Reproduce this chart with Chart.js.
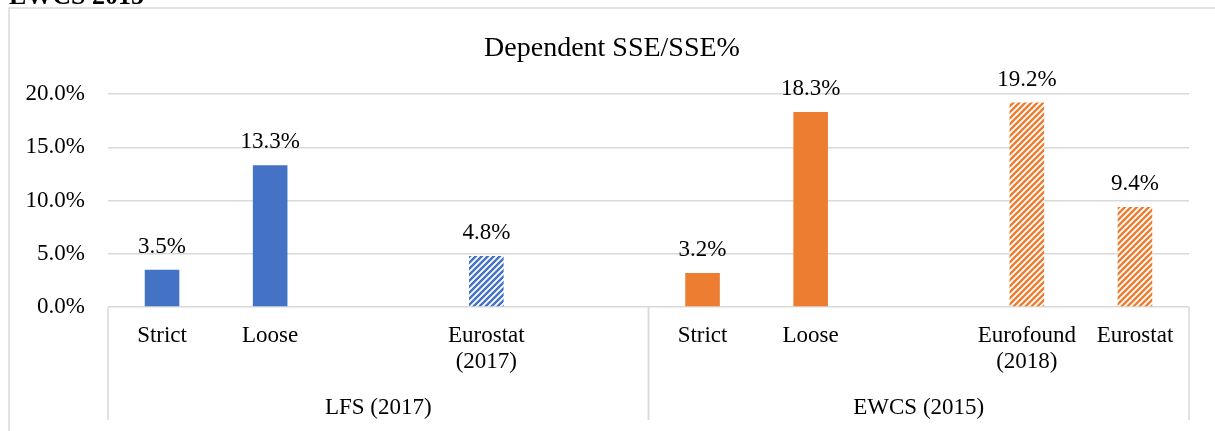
<!DOCTYPE html>
<html>
<head>
<meta charset="utf-8">
<script src="https://cdn.jsdelivr.net/npm/chart.js@4"></script>
<style>
    body { margin: 0; background: #fff; }
    #wrap { width: 1215px; height: 431px; position: relative; }
</style>
</head>
<body>
<div id="wrap"><canvas id="sseChart" width="1215" height="431"></canvas></div>
<script>
const categories = ['Strict', 'Loose', '', ['Eurostat', '(2017)'], '', 'Strict', 'Loose', '', ['Eurofound', '(2018)'], 'Eurostat'];
const groups = ['LFS (2017)', 'EWCS (2015)'];
const groupSizes = [5, 5];
const values = [3.5, 13.3, null, 4.8, null, 3.2, 18.3, null, 19.2, 9.4];
const hatched = [false, false, false, true, false, false, false, false, true, true];
const groupColors = ['#4472C4', '#ED7D31'];
const yTickMin = 0, yTickMax = 20, yTickStep = 5;
const chartTitle = 'Dependent SSE/SSE%';
const headingText = 'EWCS 2015';

const serif = "'Liberation Serif', 'Times New Roman', serif";
const lineGrey = '#d9d9d9';

const canvas = document.getElementById('sseChart');
const ctx = canvas.getContext('2d');

function makeHatch(color) {
    const tile = document.createElement('canvas');
    tile.width = 6;
    tile.height = 6;
    const g = tile.getContext('2d');
    g.fillStyle = '#fff';
    g.fillRect(0, 0, 6, 6);
    g.strokeStyle = color;
    g.lineWidth = 2.4;
    g.beginPath();
    g.moveTo(-1, 7); g.lineTo(7, -1);
    g.moveTo(-1, 1); g.lineTo(1, -1);
    g.moveTo(5, 7); g.lineTo(7, 5);
    g.stroke();
    return ctx.createPattern(tile, 'repeat');
}

// colour per bar: group colour, striped where hatched
const barFills = [];
let idx = 0;
groupSizes.forEach((size, gi) => {
    const pattern = makeHatch(groupColors[gi]);
    for (let i = 0; i < size; i++) {
        barFills.push(hatched[idx] ? pattern : groupColors[gi]);
        idx++;
    }
});

const decorations = {
    id: 'decorations',
    beforeDraw(chart) {
        const c = chart.ctx;
        c.save();
        c.strokeStyle = lineGrey;
        c.lineWidth = 1.5;
        c.beginPath();
        c.moveTo(9, 431);
        c.lineTo(9, 8);
        c.lineTo(1215, 8);
        c.stroke();

        c.fillStyle = '#000';
        c.font = 'bold 26px ' + serif;
        c.textAlign = 'left';
        c.textBaseline = 'alphabetic';
        c.fillText(headingText, 9, 4);

        c.font = '28px ' + serif;
        c.textAlign = 'center';
        c.fillText(chartTitle, 612, 56);
        c.restore();
    },
    afterDraw(chart) {
        const c = chart.ctx;
        const xs = chart.scales.x;
        const area = chart.chartArea;
        const half = (xs.getPixelForValue(1) - xs.getPixelForValue(0)) / 2;
        c.save();
        c.strokeStyle = lineGrey;
        c.lineWidth = 1.5;
        c.fillStyle = '#000';
        c.font = '23px ' + serif;
        c.textAlign = 'center';
        c.textBaseline = 'alphabetic';
        let start = 0;
        groupSizes.forEach((size, gi) => {
            const x0 = xs.getPixelForValue(start) - half;
            const x1 = xs.getPixelForValue(start + size - 1) + half;
            c.beginPath();
            c.moveTo(x0, area.bottom);
            c.lineTo(x0, 420);
            c.moveTo(x1, area.bottom);
            c.lineTo(x1, 420);
            c.stroke();
            c.fillText(groups[gi], (x0 + x1) / 2, 414);
            start += size;
        });
        c.restore();
    },
    afterDatasetsDraw(chart) {
        const c = chart.ctx;
        const meta = chart.getDatasetMeta(0);
        c.save();
        c.fillStyle = '#000';
        c.font = '23px ' + serif;
        c.textAlign = 'center';
        c.textBaseline = 'alphabetic';
        meta.data.forEach((bar, i) => {
            if (values[i] == null) return;
            c.fillText(values[i].toFixed(1) + '%', bar.x, bar.y - 17);
        });
        c.restore();
    }
};

new Chart(canvas, {
    type: 'bar',
    data: {
        labels: categories,
        datasets: [{
            data: values,
            backgroundColor: barFills,
            borderWidth: 0,
            categoryPercentage: 1,
            barPercentage: 0.32
        }]
    },
    options: {
        responsive: false,
        animation: false,
        layout: { padding: { left: 0, right: 26, top: 94, bottom: 0 } },
        plugins: {
            legend: { display: false },
            tooltip: { enabled: false },
            title: { display: false }
        },
        scales: {
            x: {
                grid: { display: false, drawTicks: false },
                border: { display: false },
                ticks: {
                    autoSkip: false,
                    maxRotation: 0,
                    padding: 16,
                    color: '#000',
                    font: { family: serif, size: 23, lineHeight: 1.13 }
                },
                afterFit(scale) { scale.height = 124; }
            },
            y: {
                min: yTickMin,
                max: yTickMax,
                grid: { color: lineGrey, lineWidth: 1.5, drawTicks: false },
                border: { display: false },
                ticks: {
                    stepSize: yTickStep,
                    padding: 23,
                    color: '#000',
                    font: { family: serif, size: 23 },
                    callback: v => v.toFixed(1) + '%'
                },
                afterFit(scale) { scale.width = 108; }
            }
        }
    },
    plugins: [decorations]
});
</script>
</body>
</html>
